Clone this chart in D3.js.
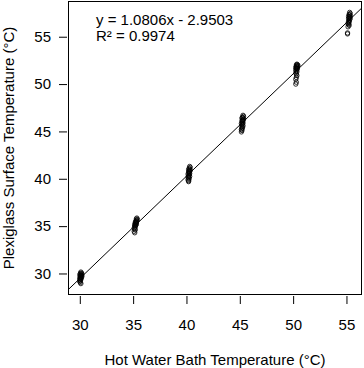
<!DOCTYPE html>
<html><head><meta charset="utf-8">
<script src="https://cdn.jsdelivr.net/npm/d3@7"></script>
<style>body{margin:0;background:#fff}svg{display:block}text{font-family:"Liberation Sans",Arial,Helvetica,sans-serif;fill:#000}</style>
</head><body><svg id="c" width="364" height="368"></svg>
<script>
// Data
const bathTemp = [
 30.10,30.15,30.05,30.20,30.10,30.00,30.15,30.10,30.20,30.05,30.10,30.15,30.00,30.10,30.05,30.10,30.00,30.05,30.00,30.05,30.10,
 35.35,35.30,35.40,35.30,35.35,35.25,35.30,35.20,35.30,35.25,35.20,35.30,35.15,35.25,35.20,35.15,35.20,35.10,35.15,35.20,35.10,35.15,
 40.30,40.35,40.25,40.30,40.20,40.35,40.25,40.30,40.20,40.25,40.30,40.15,40.25,40.20,40.30,40.15,40.20,40.25,40.15,40.20,40.20,
 45.30,45.35,45.25,45.30,45.20,45.35,45.25,45.30,45.20,45.25,45.30,45.15,45.25,45.20,45.30,45.20,45.25,45.20,45.15,45.20,45.15,
 50.35,50.40,50.30,50.45,50.35,50.30,50.40,50.25,50.35,50.30,50.40,50.25,50.30,50.35,50.25,50.30,50.35,50.30,50.25,50.30,50.25,
 55.30,55.35,55.25,55.30,55.35,55.20,55.30,55.25,55.35,55.20,55.30,55.25,55.20,55.25,55.15,55.20,55.25,55.15,55.10,55.10
];
const surfaceTemp = [
 30.15,30.05,30.00,29.95,29.90,29.85,29.80,29.78,29.72,29.68,29.62,29.58,29.52,29.48,29.42,29.38,29.30,29.25,29.15,29.05,28.93,
 35.85,35.75,35.70,35.60,35.55,35.50,35.45,35.40,35.35,35.30,35.25,35.20,35.15,35.10,35.05,35.00,34.90,34.80,34.70,34.60,34.45,34.30,
 41.30,41.20,41.10,41.00,40.95,40.90,40.80,40.75,40.70,40.60,40.55,40.50,40.40,40.30,40.25,40.20,40.10,40.00,39.90,39.80,39.70,
 46.70,46.60,46.50,46.45,46.40,46.30,46.20,46.15,46.10,46.00,45.90,45.85,45.80,45.70,45.60,45.50,45.40,45.30,45.20,45.10,44.95,
 52.10,52.05,52.00,51.95,51.90,51.85,51.80,51.75,51.70,51.65,51.60,51.50,51.40,51.30,51.20,51.05,50.90,50.70,50.50,50.20,50.00,
 57.57,57.45,57.35,57.30,57.20,57.15,57.10,57.00,56.95,56.90,56.80,56.70,56.60,56.50,56.40,56.30,56.20,56.05,55.40,55.30
];
const xTicks = [30, 35, 40, 45, 50, 55];
const yTicks = [30, 35, 40, 45, 50, 55];
const fitSlope = 1.0806, fitIntercept = -2.9503;
const eqLabels = ["y = 1.0806x - 2.9503", "R\u00b2 = 0.9974"];
const xTitle = "Hot Water Bath Temperature (\u00b0C)";
const yTitle = "Plexiglass Surface Temperature (\u00b0C)";

const svg = d3.select("#c");
const L = 68.5, R = 361.5, T = 1.5, B = 294.5;
const x = d3.scaleLinear().domain([28.94, 56.41]).range([L, R]);
const y = d3.scaleLinear().domain([27.78, 58.72]).range([B, T]);

svg.append("defs").append("clipPath").attr("id","clip")
  .append("rect").attr("x",L).attr("y",T).attr("width",R-L).attr("height",B-T);

// regression line
const xd = x.domain();
svg.append("line").attr("clip-path","url(#clip)")
  .attr("x1", x(xd[0])).attr("y1", y(fitSlope*xd[0]+fitIntercept))
  .attr("x2", x(xd[1])).attr("y2", y(fitSlope*xd[1]+fitIntercept))
  .attr("stroke","#000").attr("stroke-width",1);

// points
svg.append("g").selectAll("circle").data(bathTemp.map((b,i)=>[b,surfaceTemp[i]]))
  .join("circle").attr("cx",d=>x(d[0])).attr("cy",d=>y(d[1])).attr("r",2.2)
  .attr("fill","none").attr("stroke","#000").attr("stroke-width",0.8);

// box
svg.append("rect").attr("x",L).attr("y",T).attr("width",R-L).attr("height",B-T)
  .attr("fill","none").attr("stroke","#000").attr("stroke-width",1);

// x axis
const xa = svg.append("g").attr("transform",`translate(0,${B+1.5})`)
  .call(d3.axisBottom(x).tickValues(xTicks).tickSize(8).tickPadding(15).tickFormat(d3.format("d")));
xa.select(".domain").remove();
xa.selectAll("text").style("font-size","15px").attr("font-family",null);
xa.selectAll("line").attr("stroke","#000");

const ya = svg.append("g").attr("transform",`translate(${L-1.5},0)`)
  .call(d3.axisLeft(y).tickValues(yTicks).tickSize(8).tickPadding(8).tickFormat(d3.format("d")));
ya.select(".domain").remove();
ya.selectAll("text").style("font-size","15px").attr("font-family",null);
ya.selectAll("line").attr("stroke","#000");

svg.append("text").attr("x",(L+R)/2).attr("y",365).attr("text-anchor","middle")
  .style("font-size","15px").text(xTitle);
svg.append("text").attr("transform",`translate(14,${(T+B)/2}) rotate(-90)`).attr("text-anchor","middle")
  .style("font-size","15px").text(yTitle);

svg.selectAll("text.eq").data(eqLabels).join("text").attr("class","eq")
  .attr("x",96).attr("y",(d,i)=>25+i*15.7).style("font-size","15px").text(d=>d);
</script></body></html>
